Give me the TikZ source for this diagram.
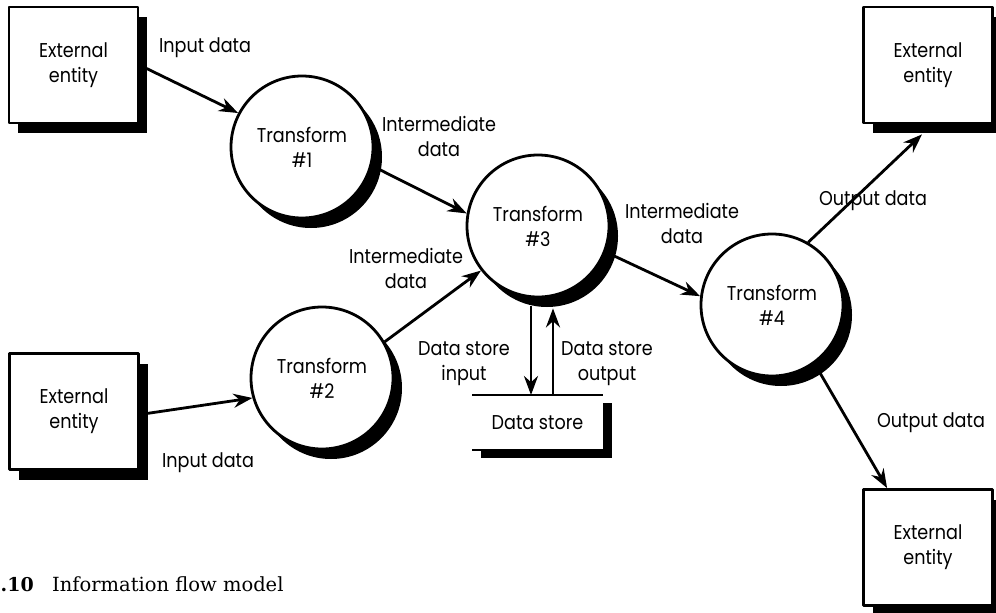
\documentclass[tikz,border=0pt]{standalone}
\usepackage{fontspec}
\setmainfont{Poppins}[FakeStretch=0.88]
\newfontfamily\captionfont{DejaVu Serif}
\usetikzlibrary{shadows,arrows.meta}

\begin{document}
\begin{tikzpicture}[
  x=1pt,
  y=-1pt,
  line join=round,
  font=\fontsize{20}{25}\selectfont,
  flow/.style={draw,line width=2.8pt,-{Stealth[length=19pt,width=14pt]}},
  blackshadow/.style={drop shadow={shadow xshift=9pt,shadow yshift=-10pt,fill=black,opacity=1}},
  entitybox/.style={rectangle,draw,line width=2.8pt,fill=white,blackshadow,
    minimum width=129pt,minimum height=116pt,inner sep=0pt,align=center},
  procnode/.style={circle,draw,line width=2.8pt,fill=white,blackshadow,
    minimum size=142pt,inner sep=0pt,align=center},
  storebox/.style={rectangle,fill=white,inner sep=0pt,outer sep=0pt,
    minimum width=131pt,minimum height=55pt,
    drop shadow={shadow xshift=9pt,shadow yshift=-8pt,fill=black,opacity=1}},
  flowlabel/.style={align=center,inner sep=0pt}
]
  % Page frame of the artwork.
  \useasboundingbox (0,0) rectangle (996,613);

  % External entities in the four corners.
  \node[entitybox] (ext1) at (73.5,65) {External\\entity};
  \node[entitybox] (ext2) at (74,411.5) {External\\entity};
  \node[entitybox] (ext3) at (928,65) {External\\entity};
  \node[entitybox] (ext4) at (928,547.5) {External\\entity};

  % Transforms.
  \node[procnode] (t1) at (302,147) {Transform\\\#1};
  \node[procnode] (t2) at (322,378) {Transform\\\#2};
  \node[procnode] (t3) at (538,226) {Transform\\\#3};
  \node[procnode] (t4) at (772,305) {Transform\\\#4};

  % Data store: open box, top and bottom lines only.
  \node[storebox] (store) at (537.5,422.5) {Data store};
  \draw[line width=2.8pt] (store.north west) -- (store.north east);
  \draw[line width=2.8pt] (store.south west) -- (store.south east);

  % Flows.
  \draw[flow] (ext1.east) -- (t1.152);
  \draw[flow] ([yshift=-3pt]ext2.east) -- (t2.196);
  \draw[flow] (t1.-15) -- (t3.170);
  \draw[flow] (t2.30) -- (t3.218);
  \draw[flow] (t3.-21) -- (t4.173);
  \draw[flow] (t4.60) -- ([xshift=-6pt,yshift=-10pt]ext3.south);
  \draw[flow] (t4.-54) -- ([xshift=25pt]ext4.north west);
  \draw[flow] ([xshift=-7pt,yshift=-8pt]t3.south) -- ([xshift=-6.5pt]store.north);
  \draw[flow] ([xshift=15.5pt]store.north) -- ([xshift=15pt,yshift=-10pt]t3.south);

  % Flow labels.
  \node[flowlabel] (lin1) at (205,48) {Input data};
  \node[flowlabel] (lin2) at (208,463) {Input data};
  \node[flowlabel] (lmid1) at (439,136) {Intermediate\\data};
  \node[flowlabel] (lmid2) at (406,268) {Intermediate\\data};
  \node[flowlabel] (lmid3) at (682,223) {Intermediate\\data};
  \node[flowlabel] (lsin) at (464,364) {Data store\\input};
  \node[flowlabel] (lsout) at (607,364) {Data store\\output};
  \node[flowlabel] (lout1) at (873,201) {Output data};
  \node[flowlabel] (lout2) at (931,423) {Output data};

  % Caption, number cut by the left edge.
  \node[anchor=base east,inner sep=0pt,font=\captionfont\bfseries\fontsize{19}{22}\selectfont]
    (fignum) at (34,591) {2.10};
  \node[anchor=base west,inner sep=0pt,font=\captionfont\fontsize{19.5}{22}\selectfont]
    (figcap) at (52,591) {Information flow model};
\end{tikzpicture}
\end{document}
